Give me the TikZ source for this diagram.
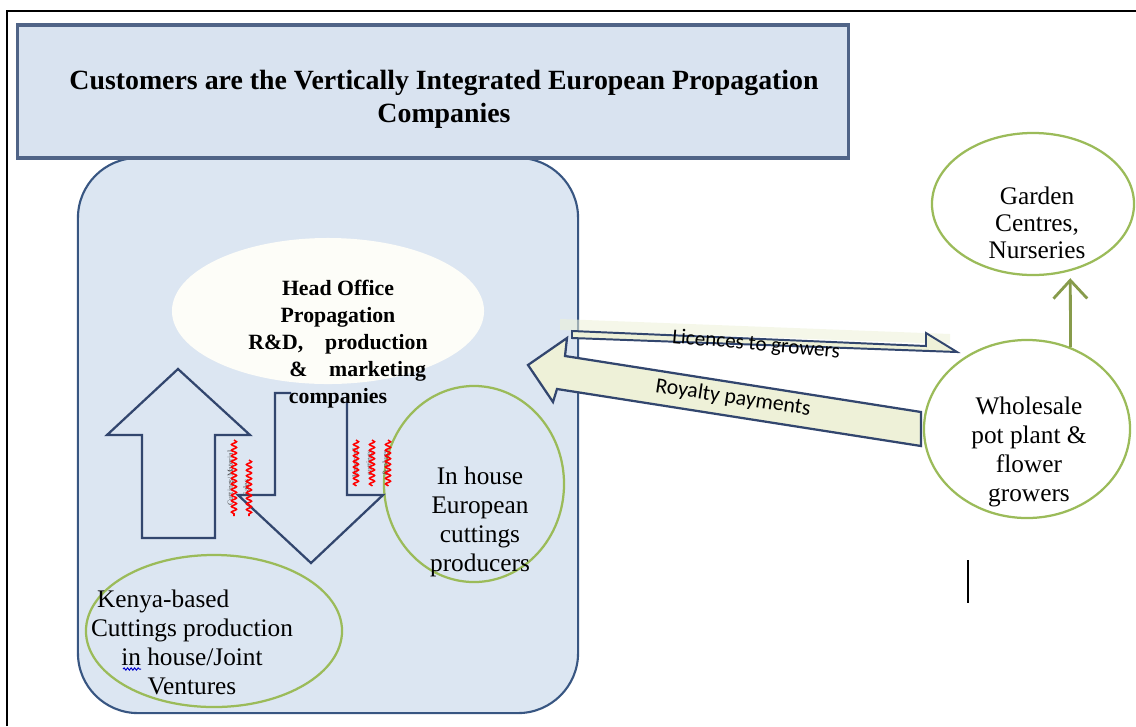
\documentclass[tikz,border=0pt]{standalone}
\usepackage{fontspec}
\setmainfont{Liberation Serif}
\newfontfamily\calibri{Carlito}
\usepackage{xcolor}
\usepackage{tikz}
\usetikzlibrary{positioning,arrows.meta,shapes.geometric,decorations.pathmorphing}

\definecolor{boxblue}{RGB}{220,230,242}
\definecolor{edgeblue}{RGB}{56,86,130}
\definecolor{arrowblue}{RGB}{50,70,110}
\definecolor{leafgreen}{RGB}{155,187,89}
\definecolor{olivegreen}{RGB}{135,155,75}
\definecolor{paleyellow}{RGB}{238,241,216}
\definecolor{titleblue}{RGB}{217,227,240}
\definecolor{titleedge}{RGB}{80,100,135}

\begin{document}
\begin{tikzpicture}[x=0.025cm, y=-0.025cm,
  green ellipse/.style={draw=leafgreen, line width=1.6pt, ellipse, inner sep=0pt},
  block arrow/.style={draw=arrowblue, line width=1.6pt, line join=miter},
  label text/.style={font=\fontsize{18}{20.6}\selectfont, align=center},
  squiggle/.style={draw=red, line width=1.1pt, decorate, decoration={snake, amplitude=1.8pt, segment length=4pt}},
  tiny word/.style={font=\fontsize{5.5}{6}\selectfont, rotate=90, inner sep=0pt, text=black!70}]

\useasboundingbox (0,0) rectangle (1136,726);
\fill[white] (0,0) rectangle (1136,726);
\draw[line width=2pt] (7,726) -- (7,11) -- (1136,11);

\node[draw=edgeblue, line width=1.5pt, fill=boxblue, rounded corners=1.5cm, minimum width=12.5cm, minimum height=13.875cm] (firm) at (328,435.5) {};
\node[draw=titleedge, line width=2.2pt, fill=titleblue, minimum width=20.75cm, minimum height=3.325cm] (title) at (433,91.5) {};
\node[font=\bfseries\fontsize{19.8}{23.5}\selectfont, align=center] (titletext) at (444,99) {Customers are the Vertically Integrated European Propagation\\Companies};

\node[green ellipse, minimum width=6.4cm, minimum height=3.8cm] (kenya) at (214,631) {};
\node[green ellipse, minimum width=4.5cm, minimum height=4.9cm] (inhouse) at (474,484) {};

% up and down block arrows
\draw[block arrow] (178,369) -- (250,435) -- (215,435) -- (215,538) -- (142,538) -- (142,435) -- (107,435) -- cycle;
\draw[block arrow] (291,393) -- (275,393) -- (275,495) -- (238,495) -- (311,563) -- (383,495) -- (347,495) -- (347,402);

\node[ellipse, fill={rgb,255:red,253;green,253;blue,248}, minimum width=7.8cm, minimum height=3.65cm, inner sep=0pt] (head) at (328,311) {};
\node[font=\bfseries\fontsize{15.5}{19.2}\selectfont, align=center] (headtext) at (338,344) {Head Office\\Propagation\\R\&D,\quad production\\\hspace*{28pt}\&\quad marketing\\companies};

\node[tiny word] (word1) at (231,478) {Cuttings/Material};
\node[tiny word] (word2) at (246,488) {Sales};
\node[tiny word] (word3) at (355,463) {Unrooted};
\node[tiny word] (word4) at (370,463) {cuttings};
\node[tiny word] (word5) at (386,463) {\& plugs};
\draw[squiggle] (234,440) -- (234,516);
\draw[squiggle] (249,460) -- (249,516);
\draw[squiggle] (356,440) -- (356,486);
\draw[squiggle] (372,440) -- (372,486);
\draw[squiggle] (388,440) -- (388,486);

\node[label text] (inhousetext) at (480,522) {In house\\European\\cuttings\\producers};
\node[label text] (kenyatext) at (192,642) {Kenya-based\hspace*{41pt}\\Cuttings production\\in house/Joint\\Ventures};
\draw[squiggle, draw=blue!80!black, line width=0.7pt, decoration={snake, amplitude=0.8pt, segment length=2.5pt}] (123,669) -- (141,669);

% growers side
\node[green ellipse, minimum width=5.05cm, minimum height=3.55cm] (garden) at (1033,204) {};
\node[label text, font=\fontsize{18}{19}\selectfont] (gardentext) at (1037,223) {Garden\\Centres,\\Nurseries};
\node[green ellipse, minimum width=5.15cm, minimum height=4.45cm] (wholesale) at (1027,429) {};
\node[label text] (wholesaletext) at (1029,452) {Wholesale\\pot plant \&\\flower\\growers};
\draw[olivegreen, line width=2pt, shorten >=5pt, -{Straight Barb[length=13pt, width=24pt]}] (wholesale.62) -- (garden.-61);

\fill[paleyellow, opacity=0.55] (560,319) -- (950,334) -- (950,344) -- (560,330) -- cycle;
\draw[block arrow, line width=1.4pt, fill=paleyellow] (572,331) -- (926,346) -- (926,333) -- (957,352) -- (572,338) -- cycle;
\draw[block arrow, fill=paleyellow] (921,412) -- (921,446) -- (557,389) -- (553,402) -- (528,365) -- (567,338) -- (565,356) -- cycle;
\node[font=\calibri\fontsize{15}{17}\selectfont, rotate=-5] (licences) at (756,345) {Licences to growers};
\node[font=\calibri\fontsize{15.5}{17}\selectfont, rotate=-8.5] (royalty) at (733,398) {Royalty payments};

\draw[line width=1.2pt] (968,560) -- (968,603);

\end{tikzpicture}
\end{document}
